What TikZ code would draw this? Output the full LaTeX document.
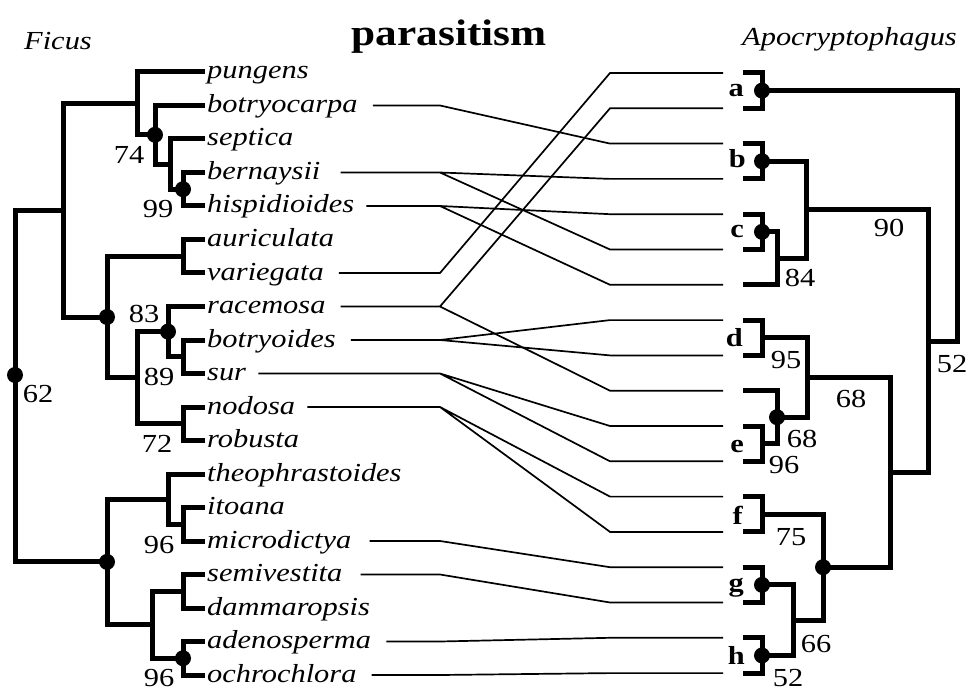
\documentclass[tikz,border=0pt]{standalone}
\usepackage{fontspec}
\setmainfont{Liberation Serif}[FakeStretch=1.17]
\begin{document}
\begin{tikzpicture}[x=1pt,y=-1pt,
 tree/.style={line width=5pt, line cap=rect, line join=miter},
 conn/.style={line width=1.7pt},
 ndot/.style={circle, fill=black, inner sep=0pt, minimum size=16pt},
 taxon/.style={anchor=base west, inner sep=0pt, font=\fontsize{26}{30}\selectfont\itshape},
 bsv/.style={anchor=base, inner sep=0pt, font=\fontsize{26}{30}\selectfont},
 lett/.style={anchor=base east, inner sep=0pt, font=\fontsize{26}{30}\selectfont\bfseries},
]
\useasboundingbox (0,0) rectangle (968,692);

% headers
\node[anchor=base, inner sep=0pt, font=\fontsize{37}{40}\selectfont\bfseries] (title) at (449,46) {parasitism};
\node[taxon] (ficus) at (24,50) {Ficus};
\node[taxon] (apoc) at (742,46) {Apocryptophagus};

% left tips
\coordinate (t0) at (202,72);
\coordinate (t1) at (202,105.5);
\coordinate (t2) at (202,139);
\coordinate (t3) at (202,172.5);
\coordinate (t4) at (202,206);
\coordinate (t5) at (202,239.5);
\coordinate (t6) at (202,273);
\coordinate (t7) at (202,306.5);
\coordinate (t8) at (202,340);
\coordinate (t9) at (202,373.5);
\coordinate (t10) at (202,407);
\coordinate (t11) at (202,440.5);
\coordinate (t12) at (202,474);
\coordinate (t13) at (202,507.5);
\coordinate (t14) at (202,541);
\coordinate (t15) at (202,574.5);
\coordinate (t16) at (202,608);
\coordinate (t17) at (202,641.5);
\coordinate (t18) at (202,675);

% taxon names
\node[taxon] (pungens) at (207,79) {pungens};
\node[taxon] (botryocarpa) at (207,112.5) {botryocarpa};
\node[taxon] (septica) at (207,146) {septica};
\node[taxon] (bernaysii) at (207,179.5) {bernaysii};
\node[taxon] (hispidioides) at (207,213) {hispidioides};
\node[taxon] (auriculata) at (207,246.5) {auriculata};
\node[taxon] (variegata) at (207,280) {variegata};
\node[taxon] (racemosa) at (207,313.5) {racemosa};
\node[taxon] (botryoides) at (207,347) {botryoides};
\node[taxon] (sur) at (207,380.5) {sur};
\node[taxon] (nodosa) at (207,414) {nodosa};
\node[taxon] (robusta) at (207,447.5) {robusta};
\node[taxon] (theophrastoides) at (207,481) {theophrastoides};
\node[taxon] (itoana) at (207,514.5) {itoana};
\node[taxon] (microdictya) at (207,548) {microdictya};
\node[taxon] (semivestita) at (207,581.5) {semivestita};
\node[taxon] (dammaropsis) at (207,615) {dammaropsis};
\node[taxon] (adenosperma) at (207,648.5) {adenosperma};
\node[taxon] (ochrochlora) at (207,682) {ochrochlora};

% left internal nodes
\coordinate (nBH) at (183,189.25);
\coordinate (nSBH) at (170,164.1);
\coordinate (nBSBH) at (155,134.8);
\coordinate (nP) at (137,103.4);
\coordinate (nAV) at (183,256.25);
\coordinate (nBS) at (183,356.75);
\coordinate (nRBS) at (168,331.6);
\coordinate (nNR) at (183,423.75);
\coordinate (nRN) at (137,377.7);
\coordinate (nAVRN) at (107,317);
\coordinate (nTOP) at (63,210.2);
\coordinate (nIM) at (183,524.25);
\coordinate (nTIM) at (168,499.1);
\coordinate (nSD) at (183,591.25);
\coordinate (nAO) at (183,658.25);
\coordinate (nSDAO) at (152,624.75);
\coordinate (nBOT) at (107,561.9);
\coordinate (nROOT) at (15,375);

\draw[tree] (t3) -| (nBH) |- (t4);
\draw[tree] (t2) -| (nSBH) |- (nBH);
\draw[tree] (t1) -| (nBSBH) |- (nSBH);
\draw[tree] (t0) -| (nP) |- (nBSBH);
\draw[tree] (t5) -| (nAV) |- (t6);
\draw[tree] (t8) -| (nBS) |- (t9);
\draw[tree] (t7) -| (nRBS) |- (nBS);
\draw[tree] (t10) -| (nNR) |- (t11);
\draw[tree] (nRBS) -| (nRN) |- (nNR);
\draw[tree] (nAV) -| (nAVRN) |- (nRN);
\draw[tree] (nP) -| (nTOP) |- (nAVRN);
\draw[tree] (t13) -| (nIM) |- (t14);
\draw[tree] (t12) -| (nTIM) |- (nIM);
\draw[tree] (t15) -| (nSD) |- (t16);
\draw[tree] (t17) -| (nAO) |- (t18);
\draw[tree] (nSD) -| (nSDAO) |- (nAO);
\draw[tree] (nTIM) -| (nBOT) |- (nSDAO);
\draw[tree] (nTOP) -| (nROOT) |- (nBOT);

\foreach \c in {nBSBH,nBH,nRBS,nAVRN,nBOT,nAO,nROOT} \node[ndot] at (\c) {};

% left support values
\node[bsv] (s74) at (129,164) {74};
\node[bsv] (s99) at (158,218) {99};
\node[bsv] (s83) at (144,322) {83};
\node[bsv] (s89) at (159,385) {89};
\node[bsv] (s62) at (38,402) {62};
\node[bsv] (s72) at (157,452) {72};
\node[bsv] (s96a) at (159,553) {96};
\node[bsv] (s96b) at (159,686) {96};

% right bracket tips
\coordinate (b0) at (745,73);
\coordinate (b1) at (745,108.3);
\coordinate (b2) at (745,143.6);
\coordinate (b3) at (745,178.9);
\coordinate (b4) at (745,214.2);
\coordinate (b5) at (745,249.5);
\coordinate (b6) at (745,284.8);
\coordinate (b7) at (745,320.1);
\coordinate (b8) at (745,355.4);
\coordinate (b9) at (745,390.7);
\coordinate (b10) at (745,426);
\coordinate (b11) at (745,461.3);
\coordinate (b12) at (745,496.6);
\coordinate (b13) at (745,531.9);
\coordinate (b14) at (745,567.2);
\coordinate (b15) at (745,602.5);
\coordinate (b16) at (745,637.8);
\coordinate (b17) at (745,673.1);

% right internal nodes
\coordinate (ra) at (762,90.65);
\coordinate (rb) at (762,161.25);
\coordinate (rc) at (762,231.85);
\coordinate (rC) at (777,258.3);
\coordinate (rBC) at (806,209.8);
\coordinate (rd) at (762,337.75);
\coordinate (re) at (762,443.65);
\coordinate (rE) at (777,417.2);
\coordinate (rDE) at (807,377.5);
\coordinate (rf) at (762,514.25);
\coordinate (rg) at (762,584.85);
\coordinate (rh) at (762,655.45);
\coordinate (rGH) at (793,620.15);
\coordinate (rFGH) at (823,567.2);
\coordinate (rDH) at (890,472.35);
\coordinate (rBH) at (928,341.1);
\coordinate (rR) at (957,215.9);

\draw[tree] (b0) -| (ra) |- (b1);
\draw[tree] (b2) -| (rb) |- (b3);
\draw[tree] (b4) -| (rc) |- (b5);
\draw[tree] (rc) -| (rC) |- (b6);
\draw[tree] (rb) -| (rBC) |- (rC);
\draw[tree] (b7) -| (rd) |- (b8);
\draw[tree] (b10) -| (re) |- (b11);
\draw[tree] (b9) -| (rE) |- (re);
\draw[tree] (rd) -| (rDE) |- (rE);
\draw[tree] (b12) -| (rf) |- (b13);
\draw[tree] (b14) -| (rg) |- (b15);
\draw[tree] (b16) -| (rh) |- (b17);
\draw[tree] (rg) -| (rGH) |- (rh);
\draw[tree] (rf) -| (rFGH) |- (rGH);
\draw[tree] (rDE) -| (rDH) |- (rFGH);
\draw[tree] (rBC) -| (rBH) |- (rDH);
\draw[tree] (ra) -| (rR) |- (rBH);

\foreach \c in {ra,rb,rc,rg,rh,rE,rFGH} \node[ndot] at (\c) {};

% letters
\node[lett] (la) at (744,97) {a};
\node[lett] (lb) at (746,168) {b};
\node[lett] (lc) at (744,238) {c};
\node[lett] (ld) at (743,346) {d};
\node[lett] (le) at (744,452) {e};
\node[lett] (lf) at (743,524) {f};
\node[lett] (lg) at (744,591) {g};
\node[lett] (lh) at (745,664) {h};

% right support values
\node[bsv] (s90) at (889,237) {90};
\node[bsv] (s84) at (800,287) {84};
\node[bsv] (s52a) at (952,372) {52};
\node[bsv] (s95) at (786,368) {95};
\node[bsv] (s68a) at (802,447) {68};
\node[bsv] (s68b) at (851,407) {68};
\node[bsv] (s96c) at (784,473) {96};
\node[bsv] (s75) at (791,545) {75};
\node[bsv] (s66) at (816,652) {66};
\node[bsv] (s52b) at (788,686) {52};

% connector bend points
\coordinate (L1) at (440,105.5);
\coordinate (L3) at (440,172.5);
\coordinate (L4) at (440,206);
\coordinate (L6) at (440,273);
\coordinate (L7) at (440,306.5);
\coordinate (L8) at (440,340);
\coordinate (L9) at (440,373.5);
\coordinate (L10) at (440,407);
\coordinate (L14) at (440,541);
\coordinate (L15) at (440,574.5);
\coordinate (L17) at (440,641.5);
\coordinate (L18) at (440,675);
\foreach \k/\y in {0/73,1/108.3,2/143.6,3/178.9,4/214.2,5/249.5,6/284.8,7/320.1,8/355.4,9/390.7,10/426,11/461.3,12/496.6,13/531.9,14/567.2,15/602.5,16/637.8,17/673.1}{
  \coordinate (R\k) at (610,\y);
  \coordinate (E\k) at (723,\y);
}

% connectors
\draw[conn] (botryocarpa.east |- L1) ++(15,0) -- (L1) -- (R2) -- (E2);
\draw[conn] (bernaysii.east |- L3) ++(20,0) -- (L3) -- (R3) -- (E3) (L3) -- (R5) -- (E5);
\draw[conn] (hispidioides.east |- L4) ++(12,0) -- (L4) -- (R4) -- (E4) (L4) -- (R6) -- (E6);
\draw[conn] (variegata.east |- L6) ++(15,0) -- (L6) -- (R0) -- (E0);
\draw[conn] (racemosa.east |- L7) ++(15,0) -- (L7) -- (R1) -- (E1) (L7) -- (R9) -- (E9);
\draw[conn] (botryoides.east |- L8) ++(15,0) -- (L8) -- (R7) -- (E7) (L8) -- (R8) -- (E8);
\draw[conn] (sur.east |- L9) ++(12,0) -- (L9) -- (R10) -- (E10) (L9) -- (R11) -- (E11);
\draw[conn] (nodosa.east |- L10) ++(12,0) -- (L10) -- (R12) -- (E12) (L10) -- (R13) -- (E13);
\draw[conn] (microdictya.east |- L14) ++(18,0) -- (L14) -- (R14) -- (E14);
\draw[conn] (semivestita.east |- L15) ++(18,0) -- (L15) -- (R15) -- (E15);
\draw[conn] (adenosperma.east |- L17) ++(15,0) -- (L17) -- (R16) -- (E16);
\draw[conn] (ochrochlora.east |- L18) ++(15,0) -- (L18) -- (R17) -- (E17);
\end{tikzpicture}
\end{document}
